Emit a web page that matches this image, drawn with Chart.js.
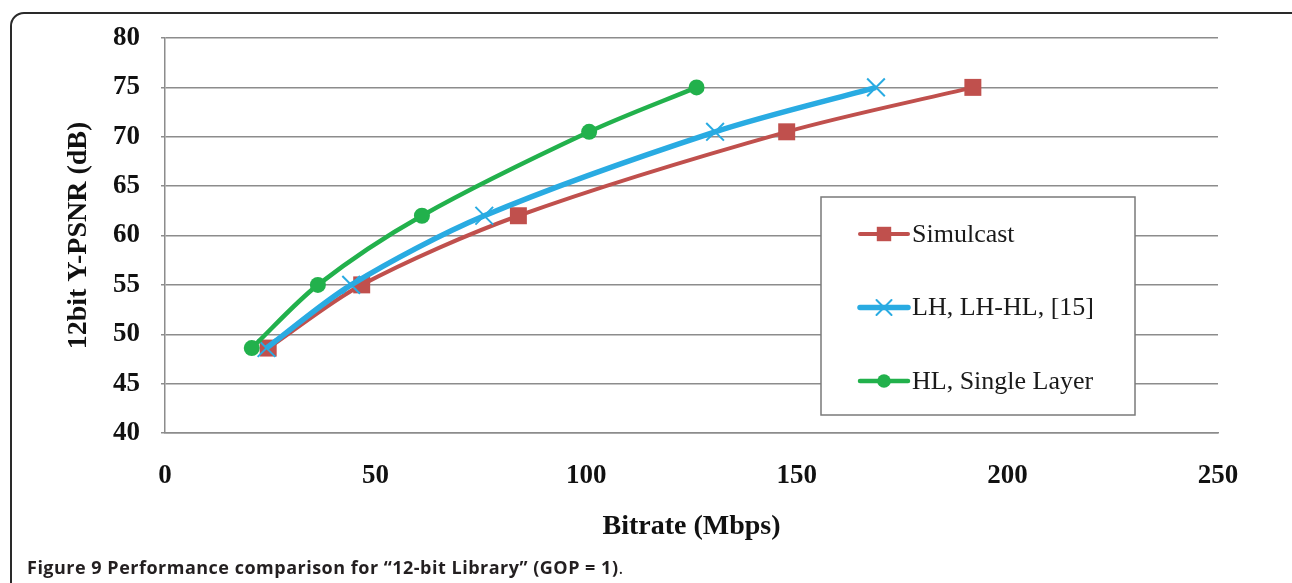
<!DOCTYPE html>
<html>
<head>
<meta charset="utf-8">
<title>12-bit Library</title>
<script src="https://cdn.jsdelivr.net/npm/chart.js@4.4.1/dist/chart.umd.min.js"></script>
<style>
    body {
        margin: 0;
        background: #ffffff;
    }
    #pagina {
        position: relative;
        width: 1292px;
        height: 583px;
        overflow: hidden;
    }
    #grafico_geral {
        position: absolute;
        left: 0;
        top: 0;
    }
    #moldura {
        position: absolute;
        left: 10px;
        top: 12px;
        width: 1300px;
        height: 620px;
        border: 2px solid #2a2a2a;
        border-radius: 14px;
        pointer-events: none;
    }
    #legenda_figura {
        position: absolute;
        left: 27px;
        top: 555px;
        font-family: 'Open Sans', sans-serif;
        font-weight: bold;
        font-size: 18px;
        letter-spacing: 0.5px;
        color: #231f20;
        white-space: nowrap;
    }
    #legenda_figura .ponto {
        font-weight: normal;
    }
</style>
</head>
<body>
<div id="pagina">
    <canvas id="grafico_geral" width="1292" height="583"></canvas>
    <div id="moldura"></div>
    <div id="legenda_figura">Figure 9 Performance comparison for “12-bit Library” (GOP = 1)<span class="ponto">.</span></div>
</div>
<script>
// Bitrate (Mbps) e PSNR (dB) de cada configuração
const psnr = [48.6, 55.0, 62.0, 70.5, 75.0];
const bitrateSimulcast = [24.5, 46.7, 83.9, 147.6, 191.8];
const bitrateLH = [24.1, 44.2, 75.8, 130.6, 168.8];
const bitrateHL = [20.6, 36.3, 61.0, 100.7, 126.2];

const nomesSeries = ['Simulcast', 'LH, LH-HL, [15]', 'HL, Single Layer'];
const eixoX = { min: 0, max: 250, passo: 50 };
const eixoY = { min: 40, max: 80, passo: 5 };

function pontos(xs, ys) {
    return xs.map((x, i) => ({ x: x, y: ys[i] }));
}

// desenha o marcador de cada série
function desenharMarcador(ctx, estilo, cx, cy, raio, cor) {
    ctx.save();
    ctx.fillStyle = cor;
    ctx.strokeStyle = cor;
    if (estilo === 'rect') {
        const lado = raio * Math.SQRT2;
        ctx.fillRect(cx - lado / 2, cy - lado / 2, lado, lado);
    } else if (estilo === 'crossRot') {
        const d = raio * Math.SQRT1_2;
        ctx.lineWidth = 2;
        ctx.beginPath();
        ctx.moveTo(cx - d, cy - d);
        ctx.lineTo(cx + d, cy + d);
        ctx.moveTo(cx - d, cy + d);
        ctx.lineTo(cx + d, cy - d);
        ctx.stroke();
    } else {
        ctx.beginPath();
        ctx.arc(cx, cy, raio, 0, Math.PI * 2);
        ctx.fill();
    }
    ctx.restore();
}

// legenda em caixa dentro da área do gráfico
const legendaCaixa = {
    id: 'legendaCaixa',
    afterDatasetsDraw(chart) {
        const { ctx, chartArea } = chart;
        const esq = chartArea.left + 656;
        const topo = chartArea.top + 159;
        const largura = 314;
        const altura = 218;

        ctx.save();
        ctx.fillStyle = '#ffffff';
        ctx.fillRect(esq, topo, largura, altura);
        ctx.strokeStyle = '#7a7a7a';
        ctx.lineWidth = 1.5;
        ctx.strokeRect(esq, topo, largura, altura);

        chart.data.datasets.forEach((ds, i) => {
            const y = topo + 37 + i * 73.5;
            ctx.strokeStyle = ds.borderColor;
            ctx.lineWidth = ds.borderWidth;
            ctx.lineCap = 'round';
            ctx.beginPath();
            ctx.moveTo(esq + 39, y);
            ctx.lineTo(esq + 87, y);
            ctx.stroke();
            desenharMarcador(ctx, ds.pointStyle, esq + 63, y, ds.pointRadius * 0.85, ds.borderColor);

            ctx.fillStyle = '#1a1a1a';
            ctx.font = '26px "Liberation Serif", serif';
            ctx.textAlign = 'left';
            ctx.textBaseline = 'middle';
            ctx.fillText(ds.label, esq + 91, y + 1);
        });
        ctx.restore();
    }
};

Chart.defaults.font.family = '"Liberation Serif", "Times New Roman", serif';
Chart.defaults.color = '#111111';

const contexto = document.getElementById('grafico_geral').getContext('2d');

const grafico = new Chart(contexto, {
    type: 'line',
    data: {
        datasets: [{
            label: nomesSeries[0],
            data: pontos(bitrateSimulcast, psnr),
            borderColor: '#C0504D',
            backgroundColor: '#C0504D',
            borderWidth: 4,
            tension: 0.3,
            pointStyle: 'rect',
            pointRadius: 12,
            pointBorderWidth: 0,
            order: 3
        }, {
            label: nomesSeries[1],
            data: pontos(bitrateLH, psnr),
            borderColor: '#29ABE2',
            backgroundColor: '#29ABE2',
            borderWidth: 5.5,
            tension: 0.3,
            pointStyle: 'crossRot',
            pointRadius: 12.5,
            pointBorderWidth: 2,
            order: 2
        }, {
            label: nomesSeries[2],
            data: pontos(bitrateHL, psnr),
            borderColor: '#22B14C',
            backgroundColor: '#22B14C',
            borderWidth: 4.5,
            tension: 0.3,
            pointStyle: 'circle',
            pointRadius: 8,
            pointBorderWidth: 0,
            order: 1
        }]
    },
    options: {
        responsive: false,
        animation: false,
        layout: {
            padding: { left: 10, right: 74, top: 38, bottom: 0 }
        },
        scales: {
            x: {
                type: 'linear',
                min: eixoX.min,
                max: eixoX.max,
                grid: {
                    display: false,
                    drawTicks: false
                },
                border: {
                    display: true,
                    color: '#8c8c8c',
                    width: 1.5
                },
                ticks: {
                    stepSize: eixoX.passo,
                    padding: 27,
                    color: '#111111',
                    font: { size: 27, weight: 'bold' }
                },
                title: {
                    display: true,
                    text: 'Bitrate (Mbps)',
                    color: '#111111',
                    padding: { top: 0, bottom: 39 },
                    font: { size: 28, weight: 'bold', lineHeight: 1.2 }
                },
                afterFit(escala) {
                    escala.height = 150;
                }
            },
            y: {
                min: eixoY.min,
                max: eixoY.max,
                grid: {
                    color: '#8c8c8c',
                    lineWidth: 1.5,
                    tickLength: 4
                },
                border: {
                    display: true,
                    color: '#8c8c8c',
                    width: 1.5
                },
                ticks: {
                    stepSize: eixoY.passo,
                    padding: 21,
                    color: '#111111',
                    font: { size: 27, weight: 'bold' }
                },
                title: {
                    display: true,
                    text: '12bit Y-PSNR (dB)',
                    color: '#111111',
                    padding: { top: 52, bottom: 0 },
                    font: { size: 28, weight: 'bold', lineHeight: 1.2 }
                },
                afterFit(escala) {
                    escala.width = 155;
                }
            }
        },
        plugins: {
            legend: { display: false },
            tooltip: { enabled: false }
        }
    },
    plugins: [legendaCaixa]
});
</script>
</body>
</html>
